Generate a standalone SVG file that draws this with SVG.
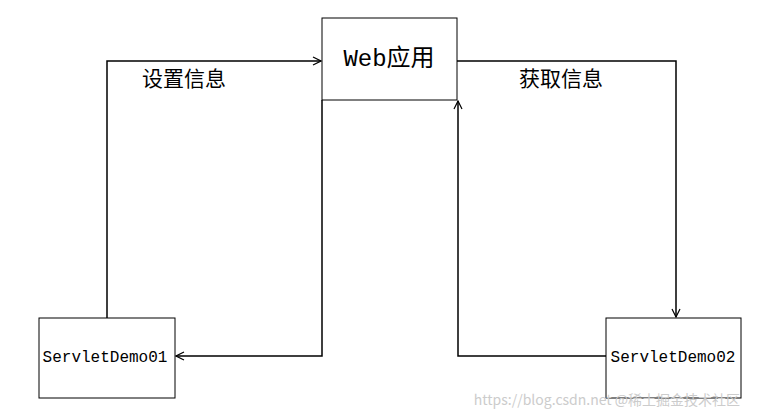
<svg xmlns="http://www.w3.org/2000/svg" width="766" height="414" viewBox="0 0 766 414">
<defs>
<marker id="ah" markerWidth="10" markerHeight="10" refX="9" refY="5" orient="auto" markerUnits="userSpaceOnUse">
<path d="M1,1 L9,5 L1,9" fill="none" stroke="#000" stroke-width="1.2"/>
</marker>
<style>
.box{fill:#fff;stroke:#000;stroke-width:1}
.ln{fill:none;stroke:#000;stroke-width:1.5;marker-end:url(#ah)}
.t{font-family:"Liberation Mono","Noto Sans CJK SC",monospace;fill:#000}
.c{font-family:"Noto Sans CJK SC",sans-serif;fill:#000;font-size:21px}
</style>
</defs>
<rect width="766" height="414" fill="#fff"/>
<g id="connectors">
<path class="ln" d="M107,318 V61 H321"/>
<path class="ln" d="M322,100 V356 H176"/>
<path class="ln" d="M457,61 H676 V317"/>
<path class="ln" d="M606,356 H458 V101"/>
</g>
<g id="web"><rect class="box" x="322" y="18" width="135" height="82"/>
<text class="t" x="389" y="66" font-size="24" text-anchor="middle">Web应用</text></g>
<g id="demo01"><rect class="box" x="39" y="318" width="136" height="80"/>
<text class="t" x="105" y="362" font-size="16" text-anchor="middle">ServletDemo01</text></g>
<g id="demo02"><rect class="box" x="606" y="318" width="135" height="80"/>
<text class="t" x="673" y="362" font-size="16" text-anchor="middle">ServletDemo02</text></g>
<text class="c" x="184" y="86" text-anchor="middle">设置信息</text>
<text class="c" x="561" y="86" text-anchor="middle">获取信息</text>
<text x="740" y="405" font-family="Noto Sans CJK SC,sans-serif" font-size="14" fill="#ccc" text-anchor="end">https://blog.csdn.net  @稀土掘金技术社区</text>
</svg>
